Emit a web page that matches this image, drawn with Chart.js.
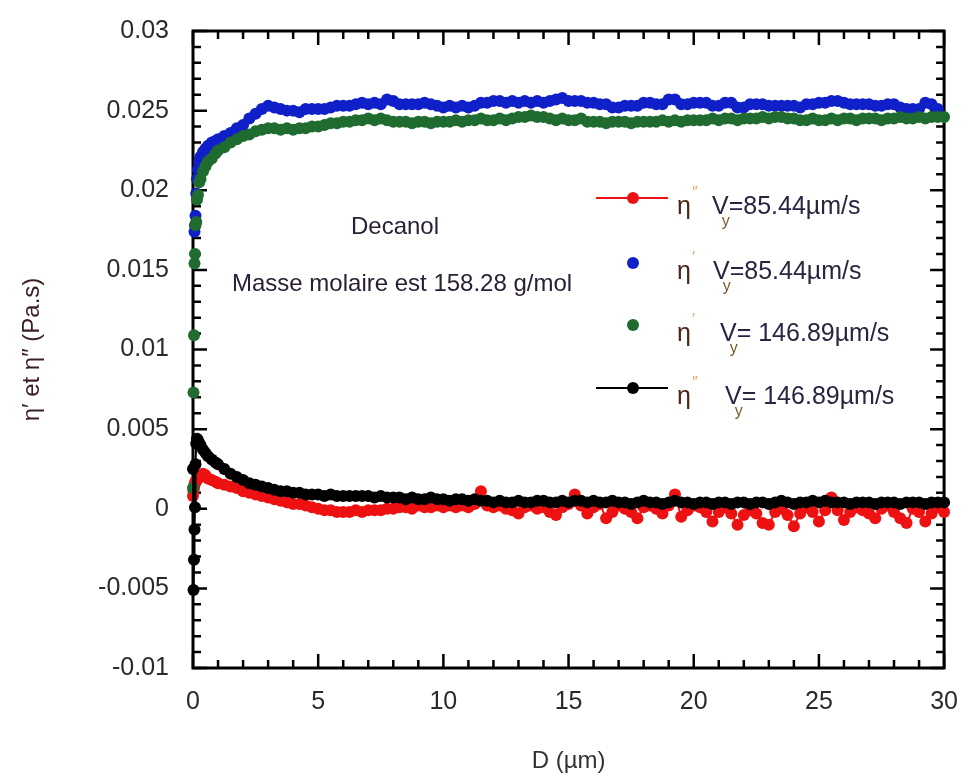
<!DOCTYPE html>
<html>
<head>
<meta charset="utf-8">
<script src="https://cdn.jsdelivr.net/npm/chart.js@4.4.1/dist/chart.umd.min.js"></script>
<style>
  body { margin: 0; background: #fff; }
</style>
</head>
<body>
<canvas id="chart" width="969" height="778"></canvas>
<script>
// D (µm), shared by the four series
const dPositions = [
  0, 0.02, 0.04, 0.06, 0.08, 0.1, 0.13, 0.16, 0.2, 0.25, 0.3, 0.4, 0.5, 0.6, 0.75, 0.9,
  1, 1.25, 1.5, 1.75, 2, 2.25, 2.5, 2.75, 3, 3.25, 3.5, 3.75, 4, 4.25, 4.5, 4.75,
  5, 5.25, 5.5, 5.75, 6, 6.25, 6.5, 6.75, 7, 7.25, 7.5, 7.75, 8, 8.25, 8.5, 8.75,
  9, 9.25, 9.5, 9.75, 10, 10.25, 10.5, 10.75, 11, 11.25, 11.5, 11.75, 12, 12.25, 12.5, 12.75,
  13, 13.25, 13.5, 13.75, 14, 14.25, 14.5, 14.75, 15, 15.25, 15.5, 15.75, 16, 16.25, 16.5, 16.75,
  17, 17.25, 17.5, 17.75, 18, 18.25, 18.5, 18.75, 19, 19.25, 19.5, 19.75, 20, 20.25, 20.5, 20.75,
  21, 21.25, 21.5, 21.75, 22, 22.25, 22.5, 22.75, 23, 23.25, 23.5, 23.75, 24, 24.25, 24.5, 24.75,
  25, 25.25, 25.5, 25.75, 26, 26.25, 26.5, 26.75, 27, 27.25, 27.5, 27.75, 28, 28.25, 28.5, 28.75,
  29, 29.25, 29.5, 29.75, 30
]

// eta' at Vy = 85.44 µm/s (blue)
const etaPrimeSlow = [
  null, null, null, 0.0174, 0.0178, 0.0184, 0.0198, 0.0207, 0.0213, 0.0218, 0.0221, 0.0224, 0.0226, 0.0228, 0.0230, 0.0231,
  0.0232, 0.0234, 0.0236, 0.0239, 0.0241, 0.0245, 0.0248, 0.0251, 0.0253, 0.0252, 0.0251, 0.0250, 0.0250, 0.0249, 0.0251, 0.0251,
  0.0251, 0.0251, 0.0252, 0.0253, 0.0253, 0.0253, 0.0254, 0.0255, 0.0254, 0.0255, 0.0254, 0.0257, 0.0256, 0.0254, 0.0254, 0.0254,
  0.0254, 0.0255, 0.0254, 0.0253, 0.0252, 0.0253, 0.0252, 0.0253, 0.0252, 0.0253, 0.0255, 0.0255, 0.0256, 0.0256, 0.0255, 0.0256,
  0.0255, 0.0256, 0.0255, 0.0256, 0.0255, 0.0256, 0.0257, 0.0258, 0.0256, 0.0256, 0.0256, 0.0255, 0.0255, 0.0254, 0.0254, 0.0252,
  0.0252, 0.0253, 0.0253, 0.0253, 0.0255, 0.0255, 0.0254, 0.0254, 0.0257, 0.0257, 0.0254, 0.0254, 0.0255, 0.0255, 0.0255, 0.0253,
  0.0253, 0.0255, 0.0255, 0.0252, 0.0252, 0.0254, 0.0254, 0.0254, 0.0253, 0.0253, 0.0253, 0.0253, 0.0253, 0.0252, 0.0254, 0.0254,
  0.0255, 0.0255, 0.0256, 0.0256, 0.0255, 0.0254, 0.0254, 0.0254, 0.0254, 0.0253, 0.0253, 0.0254, 0.0254, 0.0252, 0.0251, 0.0251,
  0.0251, 0.0255, 0.0254, 0.0251, null
]

// eta' at Vy = 146.89 µm/s (green)
const etaPrimeFast = [
  0.0013, 0.0073, 0.0109, 0.0154, 0.0160, 0.0178, 0.0180, 0.0194, 0.0197, 0.0205, 0.0207, 0.0212, 0.0215, 0.0218, 0.0220, 0.0223,
  0.0225, 0.0227, 0.0230, 0.0232, 0.0234, 0.0235, 0.0237, 0.0238, 0.0239, 0.0239, 0.0238, 0.0239, 0.0238, 0.0239, 0.0239, 0.0240,
  0.0240, 0.0241, 0.0242, 0.0242, 0.0243, 0.0243, 0.0244, 0.0244, 0.0245, 0.0244, 0.0245, 0.0244, 0.0243, 0.0243, 0.0243, 0.0242,
  0.0243, 0.0243, 0.0242, 0.0243, 0.0243, 0.0243, 0.0244, 0.0243, 0.0244, 0.0244, 0.0245, 0.0244, 0.0244, 0.0245, 0.0244, 0.0245,
  0.0246, 0.0246, 0.0247, 0.0246, 0.0246, 0.0245, 0.0244, 0.0245, 0.0244, 0.0244, 0.0245, 0.0243, 0.0243, 0.0243, 0.0242, 0.0243,
  0.0243, 0.0243, 0.0242, 0.0243, 0.0243, 0.0243, 0.0243, 0.0244, 0.0243, 0.0244, 0.0243, 0.0244, 0.0244, 0.0244, 0.0244, 0.0245,
  0.0244, 0.0245, 0.0245, 0.0244, 0.0245, 0.0245, 0.0245, 0.0246, 0.0245, 0.0246, 0.0246, 0.0245, 0.0245, 0.0244, 0.0244, 0.0245,
  0.0244, 0.0244, 0.0245, 0.0244, 0.0245, 0.0245, 0.0244, 0.0245, 0.0245, 0.0245, 0.0244, 0.0245, 0.0245, 0.0246, 0.0245, 0.0245,
  0.0246, 0.0245, 0.0246, 0.0246, 0.0246
]

// eta'' at Vy = 85.44 µm/s (red)
const etaSecondSlow = [
  0.0008, 0.0011, 0.0013, 0.0015, 0.0016, 0.0017, 0.0018, 0.0018, 0.0019, 0.0020, 0.0021, 0.0022, 0.0021, 0.0019, 0.0018, 0.0017,
  0.0016, 0.0015, 0.0014, 0.0013, 0.0011, 0.0010, 0.0009, 0.0008, 0.0007, 0.0006, 0.0005, 0.0004, 0.0003, 0.0003, 0.0002, 0.0001,
  0.0000, -0.0001, -0.0001, -0.0002, -0.0002, -0.0002, -0.0001, -0.0002, -0.0001, -0.0001, -0.0001, 0.0000, 0.0000, 0.0001, 0.0001, 0.0000,
  0.0002, 0.0001, 0.0001, 0.0002, 0.0001, 0.0002, 0.0001, 0.0002, 0.0001, 0.0003, 0.0011, 0.0002, 0.0001, 0.0002, 0.0000, -0.0001,
  -0.0003, 0.0001, 0.0002, 0.0000, 0.0001, -0.0002, -0.0004, 0.0001, 0.0003, 0.0009, 0.0002, -0.0003, 0.0001, 0.0003, -0.0006, -0.0002,
  0.0002, 0.0000, -0.0002, -0.0006, 0.0001, 0.0002, 0.0000, -0.0003, 0.0002, 0.0009, -0.0005, -0.0001, 0.0002, 0.0001, -0.0002, -0.0008,
  -0.0002, 0.0001, -0.0003, -0.0010, -0.0004, -0.0001, -0.0003, -0.0009, -0.0010, -0.0002, 0.0000, -0.0004, -0.0011, -0.0003, 0.0001, -0.0002,
  -0.0008, -0.0001, 0.0007, -0.0001, -0.0007, -0.0002, 0.0001, -0.0001, -0.0003, -0.0006, 0.0000, 0.0002, -0.0002, -0.0006, -0.0009, 0.0000,
  -0.0002, -0.0008, -0.0003, 0.0001, -0.0002
]

// eta'' at Vy = 146.89 µm/s (black)
const etaSecondFast = [
  0.0025, -0.0051, -0.0032, -0.0013, 0.0001, 0.0028, 0.0041, 0.0044, 0.0043, 0.0041, 0.0040, 0.0037, 0.0035, 0.0033, 0.0031, 0.0029,
  0.0028, 0.0025, 0.0022, 0.0020, 0.0018, 0.0016, 0.0015, 0.0014, 0.0013, 0.0012, 0.0011, 0.0011, 0.0010, 0.0010, 0.0009, 0.0009,
  0.0009, 0.0008, 0.0009, 0.0008, 0.0008, 0.0008, 0.0008, 0.0008, 0.0008, 0.0007, 0.0008, 0.0007, 0.0007, 0.0007, 0.0006, 0.0007,
  0.0006, 0.0006, 0.0007, 0.0006, 0.0006, 0.0005, 0.0006, 0.0006, 0.0005, 0.0006, 0.0005, 0.0005, 0.0004, 0.0005, 0.0004, 0.0004,
  0.0005, 0.0004, 0.0004, 0.0005, 0.0005, 0.0004, 0.0004, 0.0005, 0.0004, 0.0005, 0.0005, 0.0004, 0.0005, 0.0004, 0.0004, 0.0005,
  0.0004, 0.0004, 0.0003, 0.0004, 0.0005, 0.0004, 0.0004, 0.0003, 0.0004, 0.0005, 0.0004, 0.0004, 0.0003, 0.0004, 0.0004, 0.0003,
  0.0004, 0.0004, 0.0003, 0.0004, 0.0004, 0.0003, 0.0004, 0.0004, 0.0003, 0.0004, 0.0005, 0.0004, 0.0003, 0.0004, 0.0004, 0.0005,
  0.0004, 0.0005, 0.0004, 0.0004, 0.0004, 0.0003, 0.0004, 0.0004, 0.0004, 0.0003, 0.0004, 0.0004, 0.0004, 0.0003, 0.0004, 0.0004,
  0.0004, 0.0003, 0.0004, 0.0004, 0.0004
]

const xTicks = [0, 5, 10, 15, 20, 25, 30]
const yTicks = [-0.01, -0.005, 0, 0.005, 0.01, 0.015, 0.02, 0.025, 0.03]
const legendPrimes = ['\u2033', '\u2032', '\u2032', '\u2033']
const legendSpeeds = ['=85.44\u00b5m/s', '=85.44\u00b5m/s', '= 146.89\u00b5m/s', '= 146.89\u00b5m/s']
const sampleName = 'Decanol'
const molarMassNote = 'Masse molaire est 158.28 g/mol'

const FONT = '"Liberation Sans", Arial, sans-serif'
const COLORS = { red: '#ee1111', blue: '#1020c8', green: '#1f6b30', black: '#000000' }

function toPoints(ys) {
  return dPositions.map((d, i) => ({ x: d, y: ys[i] })).filter(p => p.y !== null)
}

/** inward ticks on all four sides + frame */
const frameTicks = {
  id: 'frameTicks',
  beforeDatasetsDraw(chart) {
    const { ctx, chartArea: a, scales: { x, y } } = chart
    ctx.save()
    ctx.strokeStyle = '#000'
    ctx.lineWidth = 2.5
    ctx.beginPath()
    for (let i = 0; i < xTicks.length; i++) {
      const step = i < xTicks.length - 1 ? (xTicks[i + 1] - xTicks[i]) / 5 : 0
      for (let k = 0; k < (step ? 5 : 1); k++) {
        const px = x.getPixelForValue(xTicks[i] + k * step)
        const len = k === 0 ? 14 : 8
        ctx.moveTo(px, a.bottom); ctx.lineTo(px, a.bottom - len)
        ctx.moveTo(px, a.top); ctx.lineTo(px, a.top + len)
      }
    }
    for (let i = 0; i < yTicks.length; i++) {
      const step = i < yTicks.length - 1 ? (yTicks[i + 1] - yTicks[i]) / 5 : 0
      for (let k = 0; k < (step ? 5 : 1); k++) {
        const py = y.getPixelForValue(yTicks[i] + k * step)
        const len = k === 0 ? 14 : 8
        ctx.moveTo(a.left, py); ctx.lineTo(a.left + len, py)
        ctx.moveTo(a.right, py); ctx.lineTo(a.right - len, py)
      }
    }
    ctx.stroke()
    ctx.lineWidth = 3
    ctx.strokeRect(a.left, a.top, a.right - a.left, a.bottom - a.top)
    ctx.restore()
  }
}

/** sample notes and the legend with subscripts */
const chartNotes = {
  id: 'chartNotes',
  afterDatasetsDraw(chart) {
    const ctx = chart.ctx
    ctx.save()
    ctx.textBaseline = 'alphabetic'
    ctx.fillStyle = '#2a2035'
    ctx.font = '24px ' + FONT
    ctx.textAlign = 'center'
    ctx.fillText(sampleName, 395, 234)
    ctx.textAlign = 'left'
    ctx.fillText(molarMassNote, 232, 291)

    const rows = [
      { color: COLORS.red, line: true, my: 198, vx: 712 },
      { color: COLORS.blue, line: false, my: 263, vx: 713 },
      { color: COLORS.green, line: false, my: 325, vx: 720 },
      { color: COLORS.black, line: true, my: 388, vx: 725 }
    ]
    rows.forEach((row, i) => {
      ctx.fillStyle = row.color
      ctx.strokeStyle = row.color
      if (row.line) {
        ctx.lineWidth = 2
        ctx.beginPath(); ctx.moveTo(596, row.my); ctx.lineTo(668, row.my); ctx.stroke()
      }
      ctx.beginPath(); ctx.arc(633, row.my, 6, 0, Math.PI * 2); ctx.fill()

      const base = row.my + 16
      ctx.font = '25px ' + FONT
      ctx.fillStyle = '#4d2417'
      ctx.fillText('\u03b7', 677, base)
      ctx.font = '16px ' + FONT
      ctx.fillStyle = '#e8a860'
      ctx.fillText(legendPrimes[i], 692, base - 16)
      ctx.font = '25px ' + FONT
      ctx.fillStyle = '#2b2440'
      ctx.fillText('V', row.vx, base)
      const vw = ctx.measureText('V').width
      ctx.fillText(legendSpeeds[i], row.vx + vw, base)
      ctx.font = '16px ' + FONT
      ctx.fillStyle = '#7a5a30'
      ctx.fillText('y', row.vx + vw - 7, base + 12)
    })
    ctx.restore()
  }
}

const lineSet = (label, values, color) => ({
  label, data: toPoints(values), showLine: true, borderColor: color, borderWidth: 2,
  backgroundColor: color, pointRadius: 6, pointBorderWidth: 0, clip: false
})
const dotSet = (label, values, color) => ({
  label, data: toPoints(values), showLine: false,
  backgroundColor: color, pointRadius: 6, pointBorderWidth: 0, clip: false
})

new Chart(document.getElementById('chart').getContext('2d'), {
  type: 'scatter',
  data: {
    datasets: [
      lineSet("\u03b7'' Vy=146.89\u00b5m/s", etaSecondFast, COLORS.black),
      dotSet("\u03b7' Vy=146.89\u00b5m/s", etaPrimeFast, COLORS.green),
      lineSet("\u03b7'' Vy=85.44\u00b5m/s", etaSecondSlow, COLORS.red),
      dotSet("\u03b7' Vy=85.44\u00b5m/s", etaPrimeSlow, COLORS.blue)
    ]
  },
  options: {
    responsive: false,
    animation: false,
    layout: { padding: { left: 0, top: 26, right: 19, bottom: 0 } },
    plugins: { legend: { display: false }, tooltip: { enabled: false } },
    scales: {
      x: {
        type: 'linear', min: 0, max: 30,
        afterBuildTicks: s => { s.ticks = xTicks.map(v => ({ value: v })) },
        afterFit: s => { s.height = 110 },
        grid: { display: false }, border: { display: false },
        ticks: { color: '#2a2a2a', font: { family: FONT, size: 25 }, padding: 11, maxRotation: 0 },
        title: { display: true, text: 'D (\u00b5m)', color: '#333', font: { family: FONT, size: 24 }, padding: { top: 0, bottom: 2 } }
      },
      y: {
        type: 'linear', min: -0.01, max: 0.03,
        afterBuildTicks: s => { s.ticks = yTicks.map(v => ({ value: v })) },
        afterFit: s => { s.width = 193 },
        grid: { display: false }, border: { display: false },
        ticks: {
          color: '#2a2a2a', font: { family: FONT, size: 25 }, padding: 16,
          callback: v => String(Number(v.toFixed(3)))
        },
        title: { display: true, text: '\u03b7\u2032 et \u03b7\u2033 (Pa.s)', color: '#3b1f1f', font: { family: FONT, size: 24 }, padding: { top: 18, bottom: 0 } }
      }
    }
  },
  plugins: [frameTicks, chartNotes]
})
</script>
</body>
</html>
